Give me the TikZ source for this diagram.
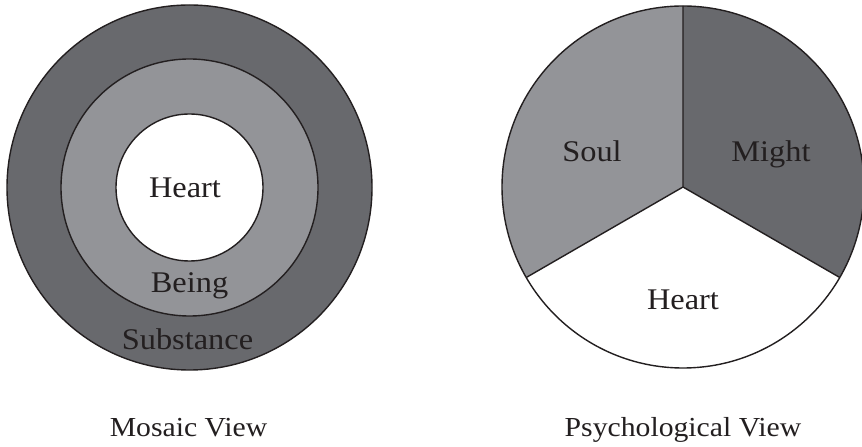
\documentclass[tikz,border=0pt]{standalone}
\usepackage{fontspec}
\setmainfont{Liberation Serif}
\usetikzlibrary{calc}
\definecolor{darkg}{RGB}{104,105,109}
\definecolor{lightg}{RGB}{147,148,152}
\definecolor{ink}{RGB}{35,31,32}
\begin{document}
\begin{tikzpicture}[x=1pt,y=1pt,
  ring/.style={draw=ink,line width=1.4pt},
  lbl/.style={text=ink,font=\fontsize{30}{36}\selectfont,inner sep=0pt,anchor=base,xscale=1.08},
  captionlbl/.style={lbl,font=\fontsize{27.5}{33}\selectfont}]
\useasboundingbox (0,0) rectangle (862,447);
\fill[white] (0,0) rectangle (862,447);
% Mosaic view
\coordinate (L) at (189.5,259.5);
\draw[ring,fill=darkg] (L) circle[radius=182.5];
\draw[ring,fill=lightg] (L) circle[radius=128.5];
\draw[ring,fill=white] (L) circle[radius=73.5];
\node[lbl] (heartL) at (185,249) {Heart};
\node[lbl] (being) at (189.5,154) {Being};
\node[lbl] (subst) at (187.5,97.5) {Substance};
\node[captionlbl] (mosaic) at (188.5,10) {Mosaic View};
% Psychological view
\coordinate (R) at (683,260);
\coordinate (top) at ($(R)+(90:181)$);
\coordinate (ll) at ($(R)+(210:181)$);
\coordinate (lr) at ($(R)+(-30:181)$);
\fill[lightg] (R) -- (top) arc[start angle=90,end angle=210,radius=181] -- cycle;
\fill[darkg] (R) -- (lr) arc[start angle=-30,end angle=90,radius=181] -- cycle;
\draw[ring] (R) circle[radius=181];
\draw[ring,line join=miter] (top) -- (R) -- (ll) (R) -- (lr);
\node[lbl] (soul) at (592,285) {Soul};
\node[lbl] (might) at (771,285) {Might};
\node[lbl] (heartR) at (683,137) {Heart};
\node[captionlbl] (psych) at (683,10) {Psychological View};
\end{tikzpicture}
\end{document}
